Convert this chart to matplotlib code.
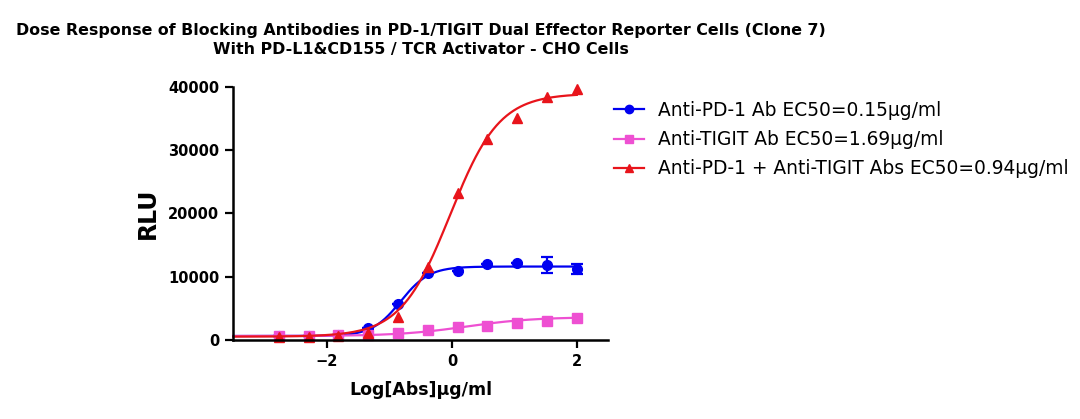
import numpy as np
import matplotlib
matplotlib.use('Agg')
import matplotlib.pyplot as plt

plt.rcParams['font.family'] = ['DejaVu Sans']

# log10 concentration (3-fold dilution from 100 ug/ml)
log_conc = [-2.771, -2.294, -1.817, -1.340, -0.863, -0.386, 0.091, 0.568, 1.046, 1.523, 2.000]

pd1_rlu = [600, 620, 700, 1850, 5640, 10540, 10900, 11960, 12230, 11860, 11180]
pd1_err = [0, 0, 0, 0, 0, 0, 0, 0, 0, 1300, 800]
tigit_rlu = [630, 630, 790, 800, 1050, 1580, 1950, 2210, 2740, 2900, 3430]
combo_rlu = [500, 520, 600, 1000, 3690, 11600, 23200, 31730, 35150, 38370, 39680]

# 4PL fit params: bottom, top, logEC50, hill
pd1_fit = [600, 11600, -0.82, 1.9]
tigit_fit = [600, 3600, 0.23, 0.8]
combo_fit = [500, 39000, -0.03, 1.1]

labels = ['Anti-PD-1 Ab EC50=0.15\u03bcg/ml',
          'Anti-TIGIT Ab EC50=1.69\u03bcg/ml',
          'Anti-PD-1 + Anti-TIGIT Abs EC50=0.94\u03bcg/ml']
colors = ['#0000F0', '#EE50D2', '#E8141B']
markers = ['o', 's', '^']


def fourpl(x, p):
    b, t, c, h = p
    return b + (t - b) / (1 + 10 ** ((c - x) * h))


fig = plt.figure(figsize=(10.8, 4.19), dpi=100)
ax = fig.add_axes([0.216, 0.189, 0.347, 0.603])

xs = np.linspace(-3.5, 2.0, 300)
series = [(pd1_rlu, pd1_err, pd1_fit), (tigit_rlu, None, tigit_fit), (combo_rlu, None, combo_fit)]
handles = []
for (y, err, fit), c, m, lab in zip(series, colors, markers, labels):
    ax.plot(xs, fourpl(xs, fit), color=c, lw=1.6, clip_on=False)
    if err is not None:
        ax.errorbar(log_conc, y, yerr=err, fmt='none', ecolor=c, elinewidth=1.6, capsize=4, capthick=1.6)
    ax.plot(log_conc, y, linestyle='none', marker=m, color=c, markersize=7, clip_on=False)
    h, = ax.plot([], [], color=c, lw=1.6, marker=m, markersize=6, label=lab)
    handles.append(h)

ax.set_xlim(-3.5, 2.5)
ax.set_ylim(0, 40000)
ax.set_xticks([-2, 0, 2])
ax.set_yticks([0, 10000, 20000, 30000, 40000])
for s in ['top', 'right']:
    ax.spines[s].set_visible(False)
for s in ['left', 'bottom']:
    ax.spines[s].set_linewidth(1.8)
ax.tick_params(width=1.6, length=6, labelsize=10.5, pad=4)
for t in ax.get_xticklabels() + ax.get_yticklabels():
    t.set_fontweight('bold')

ax.set_ylabel('RLU', fontsize=17, fontweight='bold', labelpad=6)
ax.set_xlabel('Log[Abs]\u03bcg/ml', fontsize=12.5, fontweight='bold', labelpad=9)

fig.text(0.39, 0.928, 'Dose Response of Blocking Antibodies in PD-1/TIGIT Dual Effector Reporter Cells (Clone 7)',
         ha='center', va='center', fontsize=11.4, fontweight='bold')
fig.text(0.39, 0.881, 'With PD-L1&CD155 / TCR Activator - CHO Cells',
         ha='center', va='center', fontsize=11.4, fontweight='bold')

fig.legend(handles=handles, loc='upper left', bbox_to_anchor=(0.553, 0.799), frameon=False,
           fontsize=13.4, handlelength=1.6, labelspacing=0.54, handletextpad=0.75)

fig.savefig('out.png', dpi=100)
